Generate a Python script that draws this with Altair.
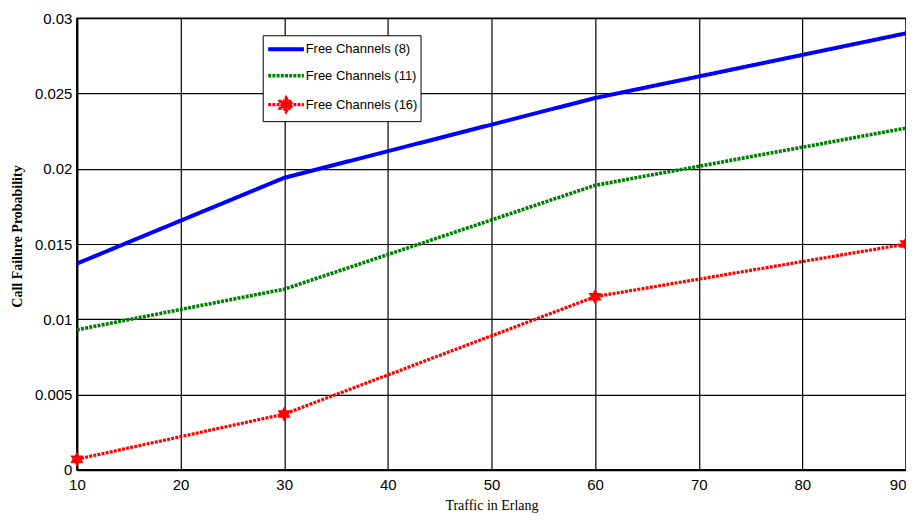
import altair as alt
import pandas as pd

traffic = [10, 30, 60, 90]
ch8 = [0.0137, 0.0194, 0.0247, 0.0290]
ch11 = [0.0093, 0.0120, 0.0189, 0.0227]
ch16 = [0.0007, 0.0037, 0.0115, 0.0150]
series = ["Free Channels (8)", "Free Channels (11)", "Free Channels (16)"]
colors = ["#0000ff", "#008000", "#ff0000"]
x_ticks = [10, 20, 30, 40, 50, 60, 70, 80, 90]
y_ticks = [0, 0.005, 0.01, 0.015, 0.02, 0.025, 0.03]

rows = []
for name, vals in zip(series, [ch8, ch11, ch16]):
    for t, v in zip(traffic, vals):
        rows.append({"traffic": t, "prob": v, "series": name})
df = pd.DataFrame(rows)

# hexagram star (unit box)
pts = [(0, -1), (0.2887, -0.5), (0.866, -0.5), (0.5774, 0), (0.866, 0.5), (0.2887, 0.5),
       (0, 1), (-0.2887, 0.5), (-0.866, 0.5), (-0.5774, 0), (-0.866, -0.5), (-0.2887, -0.5)]
def star(scale, cx=0.0):
    return "M" + "L".join(f"{x*scale+cx:.3f},{y*scale:.3f}" for x, y in pts) + "Z"
star_path = star(1.0)
line_path = "M-1,0L3.2,0"
legend_paths = [line_path, line_path, line_path + star(0.8, 1.1)]

FONT = "'Liberation Sans Narrow', 'Arial Narrow', 'Liberation Sans'"

xs = alt.X("traffic:Q", scale=alt.Scale(domain=[10, 90], nice=False),
           axis=alt.Axis(values=x_ticks, title="Traffic in Erlang", labelFlush=False,
                         labelAlign=alt.ConditionalAxisLabelAlign(
                             condition={"test": "datum.value >= 90", "value": "right"},
                             value="center")))
ys = alt.Y("prob:Q", scale=alt.Scale(domain=[0, 0.03], nice=False),
           axis=alt.Axis(values=y_ticks, format="~g", title="Call Failure Probability",
                         titleFontWeight="bold", titleY=218, labelFlush=False))

leg = alt.Legend(title=None, orient="none", legendX=186, legendY=17)
color = alt.Color("series:N", scale=alt.Scale(domain=series, range=colors), legend=leg)
dash = alt.StrokeDash("series:N",
                      scale=alt.Scale(domain=series, range=[[1, 0], [3, 1.2], [3, 1.2]]),
                      legend=leg)

lines = alt.Chart(df).mark_line().encode(
    x=xs, y=ys, color=color, strokeDash=dash,
    strokeWidth=alt.StrokeWidth("series:N", scale=alt.Scale(domain=series, range=[4, 3.2, 3.2]),
                                legend=None),
)

legend_layer = alt.Chart(df).transform_filter("false").mark_point(filled=True, opacity=1).encode(
    x=xs, y=ys, color=color, strokeDash=dash,
    shape=alt.Shape("series:N", scale=alt.Scale(domain=series, range=legend_paths), legend=leg),
)

stars = alt.Chart(df).transform_filter(
    alt.datum.series == series[2]
).mark_point(filled=True, size=230, shape=star_path, color=colors[2], opacity=1).encode(
    x=xs, y=ys
)

chart = alt.layer(lines, legend_layer, stars).properties(
    width=830, height=452,
    autosize=alt.AutoSizeParams(type="none"),
    padding={"left": 69, "top": 10, "right": 0, "bottom": 44},
).configure_view(
    stroke="black", strokeWidth=1.5
).configure_axis(
    grid=True, gridColor="black", gridWidth=1.2, gridOpacity=1,
    domainColor="black", domainWidth=2, ticks=False,
    labelFont=FONT, labelFontSize=15, labelColor="black", labelPadding=8,
    titleFont="Liberation Serif", titleFontSize=14, titleColor="black", titleFontWeight="normal",
).configure_axisY(
    titlePadding=10, labelPadding=5
).configure_axisX(
    titlePadding=6
).configure_legend(
    fillColor="white", strokeColor="black", padding=3, rowPadding=8,
    labelFont=FONT, labelFontSize=13, labelColor="black", labelLimit=300, labelOffset=18,
    symbolType="stroke", symbolSize=290, symbolStrokeWidth=3.5,
)

chart.save("out.html", embed_options={"renderer": "svg", "actions": False})
